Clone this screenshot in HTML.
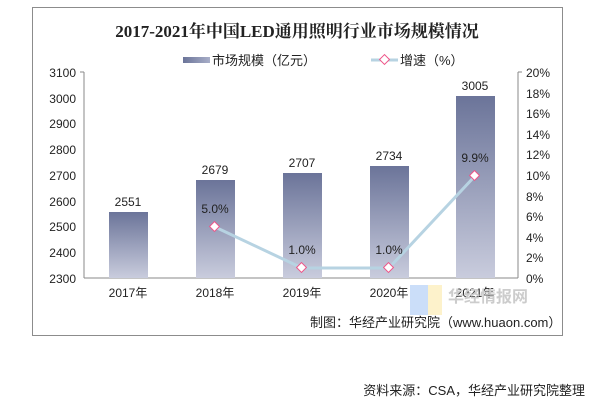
<!DOCTYPE html>
<html><head><meta charset="utf-8"><style>
body{margin:0;background:#fff;width:609px;height:414px;overflow:hidden;font-family:"Liberation Sans","Noto Sans CJK SC",sans-serif}
</style></head><body>
<svg width="609" height="414" xmlns="http://www.w3.org/2000/svg" font-family="Liberation Sans, Noto Sans CJK SC, sans-serif">
<defs>
<linearGradient id="g" x1="0" y1="0" x2="0" y2="1">
<stop offset="0" stop-color="#6b7499"/><stop offset="1" stop-color="#c9ccdd"/></linearGradient>
<linearGradient id="gl" x1="0" y1="0" x2="1" y2="0">
<stop offset="0" stop-color="#6b7499"/><stop offset="1" stop-color="#a8aec8"/></linearGradient>
</defs>
<rect x="32.5" y="7.5" width="530" height="328" fill="#fff" stroke="#8c8c8c"/>
<text x="297" y="37" text-anchor="middle" font-family="Liberation Serif, Noto Serif CJK SC, serif" font-weight="bold" font-size="17" fill="#222">2017-2021年中国LED通用照明行业市场规模情况</text>
<rect x="183" y="57" width="27" height="6" fill="url(#gl)"/>
<text x="212" y="65" font-size="13" fill="#222">市场规模（亿元）</text>
<line x1="371" y1="60" x2="398" y2="60" stroke="#b7d3e2" stroke-width="3"/>
<rect x="381" y="56" width="7" height="7" fill="#fff" stroke="#e58" stroke-width="1" transform="rotate(45 384.5 59.5)"/>
<text x="400" y="65" font-size="13" fill="#222">增速（%）</text>
<g font-size="12" fill="#222">
<line x1="84" y1="72" x2="84" y2="278" stroke="#888"/>
<line x1="518" y1="72" x2="518" y2="278" stroke="#888"/>
<line x1="84" y1="278" x2="518" y2="278" stroke="#888"/>
<g text-anchor="end">
<text x="76" y="77">3100</text><text x="76" y="103">3000</text><text x="76" y="128">2900</text><text x="76" y="154">2800</text><text x="76" y="180">2700</text><text x="76" y="206">2600</text><text x="76" y="231">2500</text><text x="76" y="257">2400</text><text x="76" y="283">2300</text>
</g>
<g stroke="#888"><line x1="80" y1="72" x2="84" y2="72"/><line x1="518" y1="72" x2="522" y2="72"/></g>
<g>
<text x="526" y="77">20%</text><text x="526" y="98">18%</text><text x="526" y="118">16%</text><text x="526" y="139">14%</text><text x="526" y="159">12%</text><text x="526" y="180">10%</text><text x="526" y="201">8%</text><text x="526" y="221">6%</text><text x="526" y="242">4%</text><text x="526" y="262">2%</text><text x="526" y="283">0%</text>
</g>
<rect x="109" y="212" width="39" height="66" fill="url(#g)"/>
<rect x="196" y="180" width="39" height="98" fill="url(#g)"/>
<rect x="283" y="173" width="39" height="105" fill="url(#g)"/>
<rect x="370" y="166" width="39" height="112" fill="url(#g)"/>
<rect x="456" y="96" width="39" height="182" fill="url(#g)"/>
<g text-anchor="middle">
<text x="128" y="206">2551</text><text x="215" y="174">2679</text><text x="302" y="167">2707</text><text x="389" y="160">2734</text><text x="475" y="90">3005</text>
<text x="128" y="297">2017年</text><text x="215" y="297">2018年</text><text x="302" y="297">2019年</text><text x="389" y="297">2020年</text><text x="475" y="297">2021年</text>
</g>
<polyline points="215,227 302,268 389,268 475,176" fill="none" stroke="#b7d3e2" stroke-width="3"/>
<g fill="#fff" stroke="#e58">
<rect x="211" y="223" width="7" height="7" transform="rotate(45 214.5 226.5)"/>
<rect x="298" y="264" width="7" height="7" transform="rotate(45 301.5 267.5)"/>
<rect x="385" y="264" width="7" height="7" transform="rotate(45 388.5 267.5)"/>
<rect x="471" y="172" width="7" height="7" transform="rotate(45 474.5 175.5)"/>
</g>
<g text-anchor="middle">
<text x="215" y="213">5.0%</text><text x="302" y="254">1.0%</text><text x="389" y="254">1.0%</text><text x="475" y="162">9.9%</text>
</g>
</g>
<rect x="410" y="285" width="18" height="30" fill="#a8c8f5" opacity="0.6"/>
<rect x="428" y="285" width="14" height="30" fill="#fbe9a8" opacity="0.6"/>
<text x="448" y="302" font-size="16" font-weight="bold" fill="#ccc">华经情报网</text>
<text x="310" y="327" font-size="13" fill="#222">制图：华经产业研究院（www.huaon.com）</text>
<text x="585" y="395" text-anchor="end" font-size="13" fill="#222">资料来源：CSA，华经产业研究院整理</text>
</svg>
</body></html>
